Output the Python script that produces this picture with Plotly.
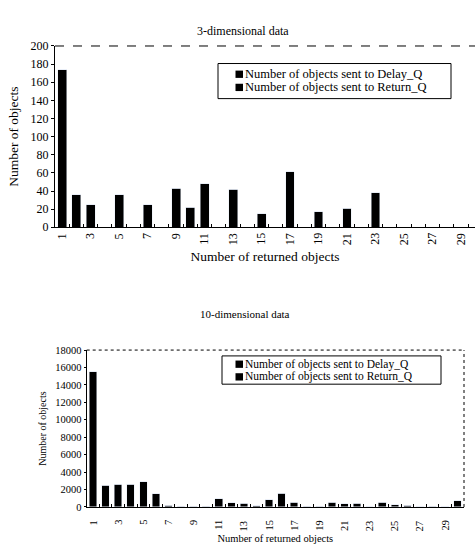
import plotly.graph_objects as go

W, H = 475, 552

categories = list(range(1, 31))

delay_3d = [174, 36, 25, 0, 36, 0, 25, 0, 43, 22, 48, 0, 42, 0, 15, 0, 61, 0, 17, 0,
            21, 0, 38, 0, 0, 0, 0, 0, 0, 0]
return_3d = [0] * 30

delay_10d = [15500, 2500, 2600, 2600, 2900, 1500, 200, 100, 100, 100, 950, 500, 450, 150,
             850, 1600, 550, 100, 100, 550, 350, 450, 30, 550, 250, 200, 50, 100, 50, 700]
return_10d = [0] * 30

tick_vals = list(range(1, 30, 2))
tick_labels = [str(v) for v in tick_vals]

title_top = "3-dimensional data"
title_bottom = "10-dimensional data"
xtitle = "Number of returned objects"
ytitle = "Number of objects"
name_delay = "Number of objects sent to Delay_Q"
name_return = "Number of objects sent to Return_Q"

FONT = "Liberation Serif"


def px_x(p):
    return p / W


def px_y(p):
    return 1 - p / H


fig = go.Figure()

fig.add_trace(go.Bar(x=categories, y=delay_3d, name=name_delay, marker_color="black",
                     width=0.62, xaxis="x", yaxis="y", showlegend=False))
fig.add_trace(go.Bar(x=categories, y=return_3d, name=name_return, marker_color="black",
                     width=0.62, xaxis="x", yaxis="y", showlegend=False))
fig.add_trace(go.Bar(x=categories, y=delay_10d, name=name_delay, marker_color="black",
                     width=0.6, xaxis="x2", yaxis="y2", showlegend=False))
fig.add_trace(go.Bar(x=categories, y=return_10d, name=name_return, marker_color="black",
                     width=0.6, xaxis="x2", yaxis="y2", showlegend=False))


def xaxis_cfg(domain, rng, anchor, title_size, standoff):
    return dict(
        domain=domain, range=rng, anchor=anchor,
        tickmode="linear", tick0=0.5, dtick=1, showticklabels=False,
        ticks="inside", ticklen=3, tickcolor="black",
        showline=True, linecolor="black", linewidth=1, showgrid=False, zeroline=False,
        title=dict(text=xtitle, font=dict(size=title_size), standoff=standoff),
    )


shapes = [
    dict(type="line", xref="x domain", yref="y domain", x0=0, x1=1, y0=1, y1=1,
         line=dict(color="black", width=1, dash="dash")),
    dict(type="line", xref="x2 domain", yref="y2 domain", x0=0, x1=1, y0=1, y1=1,
         line=dict(color="black", width=1, dash="dot")),
    dict(type="line", xref="x2 domain", yref="y2 domain", x0=1, x1=1, y0=0, y1=1,
         line=dict(color="black", width=1, dash="dot")),
]
annotations = [
    dict(text=title_top, x=px_x(243), y=px_y(15), xref="paper", yref="paper",
         showarrow=False, font=dict(size=12)),
    dict(text=title_bottom, x=px_x(245), y=px_y(315), xref="paper", yref="paper",
         showarrow=False, font=dict(size=11)),
]

# rotated category labels (reading bottom-to-top), placed through each axis's data scale
for xref, yref, size, shift in (("x", "y domain", 12, -5), ("x2", "y2 domain", 10.5, -12)):
    for v, t in zip(tick_vals, tick_labels):
        annotations.append(dict(text=t, x=v, y=0, xref=xref, yref=yref,
                                xanchor="center", yanchor="top", yshift=shift,
                                textangle=-90, showarrow=False, borderpad=0,
                                font=dict(size=size)))


def add_legend(box, sq_x, rows, text_x, size):
    x0, x1, y0, y1 = box
    shapes.append(dict(type="rect", xref="paper", yref="paper",
                       x0=px_x(x0), x1=px_x(x1), y0=px_y(y1), y1=px_y(y0),
                       line=dict(color="black", width=1), fillcolor="white", layer="above"))
    for name, yc in zip([name_delay, name_return], rows):
        shapes.append(dict(type="rect", xref="paper", yref="paper",
                           x0=px_x(sq_x), x1=px_x(sq_x + 7.5),
                           y0=px_y(yc + 3.75), y1=px_y(yc - 3.75),
                           line=dict(color="black", width=0), fillcolor="black",
                           layer="above"))
        annotations.append(dict(text=name, x=px_x(text_x), y=px_y(yc), xref="paper",
                                yref="paper", xanchor="left", yanchor="middle",
                                showarrow=False, font=dict(size=size),
                                borderpad=0))


add_legend((218, 451, 58, 94), 235.5, (69, 82.5), 244, 12.5)
add_legend((222, 441, 358, 387), 235.5, (366.5, 379.5), 244, 11.5)

top_x_dom = [px_x(55), 1.0]
bot_x_dom = [px_x(86.7), px_x(464)]

fig.update_layout(
    width=W, height=H,
    margin=dict(l=0, r=0, t=0, b=0),
    paper_bgcolor="white", plot_bgcolor="white",
    barmode="stack",
    showlegend=False,
    font=dict(family=FONT, color="black"),
    xaxis=xaxis_cfg(top_x_dom, [0.5, 29.98], "y", 13.5, 24),
    yaxis=dict(domain=[px_y(226), px_y(40)], range=[0, 200], anchor="x",
               dtick=20, showline=True, linecolor="black", linewidth=1,
               ticks="outside", ticklen=3, tickcolor="black", showgrid=False,
               zeroline=False, tickfont=dict(size=12),
               title=dict(text=ytitle, font=dict(size=13.5), standoff=8)),
    xaxis2=xaxis_cfg(bot_x_dom, [0.5, 30.5], "y2", 10.5, 27),
    yaxis2=dict(domain=[px_y(513), px_y(352)], range=[0, 18000], anchor="x2",
                dtick=2000, tickformat="d", showline=True, linecolor="black", linewidth=1,
                ticks="outside", ticklen=2, tickcolor="black", showgrid=False,
                zeroline=False, tickfont=dict(size=10.5),
                title=dict(text=ytitle, font=dict(size=10), standoff=6)),
    annotations=annotations,
    shapes=shapes,
)

fig.write_html("out.html")
